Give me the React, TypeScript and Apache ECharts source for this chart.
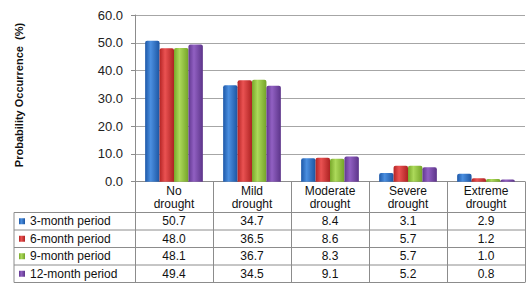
import React, { useEffect, useRef } from "react";
import * as echarts from "echarts";

const categories = ["No\ndrought", "Mild\ndrought", "Moderate\ndrought", "Severe\ndrought", "Extreme\ndrought"];
const seriesNames = ["3-month period", "6-month period", "9-month period", "12-month period"];
const period3 = [50.7, 34.7, 8.4, 3.1, 2.9];
const period6 = [48.0, 36.5, 8.6, 5.7, 1.2];
const period9 = [48.1, 36.7, 8.3, 5.7, 1.0];
const period12 = [49.4, 34.5, 9.1, 5.2, 0.8];
const yTicks = { min: 0, max: 60, interval: 10 };
const yTitle = "Probability Occurrence  (%)";

const allValues = [period3, period6, period9, period12];
const gradients: [string, string, string][] = [
  ["#1d58a8", "#4b8fe0", "#1c55a2"],
  ["#b42424", "#ea5252", "#ad2222"],
  ["#78a82a", "#acd95a", "#74a428"],
  ["#613790", "#9160c2", "#5c3489"],
];

const FONT = "'Liberation Sans', Arial, sans-serif";
const GRID_LEFT = 135;
const GRID_TOP = 15;
const GRID_RIGHT = 1;
const AXIS_Y = 181.7;
const ROW_TOP = 212.5;
const ROW_H = 17.5;
const TABLE_LEFT = 14;
const W = 526;
const H = 286;

function grad(c: [string, string, string]) {
  return new echarts.graphic.LinearGradient(0, 0, 1, 0, [
    { offset: 0, color: c[0] },
    { offset: 0.38, color: c[1] },
    { offset: 1, color: c[2] },
  ]);
}

export default function App() {
  const ref = useRef<HTMLDivElement>(null);
  useEffect(() => {
    document.body.style.margin = "0";
    if (!ref.current) return;
    const chart = echarts.init(ref.current, null, { renderer: "svg" });
    const gridBottom = H - AXIS_Y;
    const tableBottom = ROW_TOP + ROW_H * allValues.length;

    const valueAxes = allValues.map((vals, k) => ({
      type: "category" as const,
      data: categories,
      gridIndex: 0,
      position: "bottom" as const,
      axisLine: { show: false },
      axisTick: { show: false },
      splitLine: { show: false },
      axisLabel: {
        interval: 0,
        verticalAlign: "middle" as const,
        margin: ROW_TOP + ROW_H * k + ROW_H / 2 - AXIS_Y,
        fontFamily: FONT,
        fontSize: 12,
        color: "#111",
        formatter: (_v: string, i: number) => vals[i].toFixed(1),
      },
    }));

    const hLines: any[] = [];
    for (let k = 0; k <= allValues.length; k++) {
      const y = ROW_TOP + ROW_H * k;
      hLines.push({
        type: "line",
        shape: { x1: TABLE_LEFT, y1: y, x2: W - GRID_RIGHT, y2: y },
        style: { stroke: "#8c8c8c", lineWidth: 1 },
        silent: true,
      });
    }
    hLines.push({
      type: "line",
      shape: { x1: TABLE_LEFT, y1: ROW_TOP, x2: TABLE_LEFT, y2: tableBottom },
      style: { stroke: "#8c8c8c", lineWidth: 1 },
      silent: true,
    });

    chart.setOption({
      animation: false,
      backgroundColor: "#ffffff",
      grid: { left: GRID_LEFT, top: GRID_TOP, right: GRID_RIGHT, bottom: gridBottom, containLabel: false },
      legend: {
        orient: "vertical",
        left: 19,
        top: ROW_TOP + (ROW_H - 14) / 2,
        padding: 0,
        itemWidth: 6,
        itemHeight: 6,
        itemGap: ROW_H - 14,
        icon: "rect",
        textStyle: { fontFamily: FONT, fontSize: 12, color: "#111", lineHeight: 14 },
        data: seriesNames,
      },
      xAxis: [
        {
          type: "category",
          data: categories,
          axisLine: { show: true, lineStyle: { color: "#8c8c8c", width: 1 } },
          axisTick: {
            show: true,
            inside: false,
            length: tableBottom - AXIS_Y,
            lineStyle: { color: "#8c8c8c", width: 1 },
          },
          axisLabel: {
            interval: 0,
            verticalAlign: "middle",
            margin: (AXIS_Y + ROW_TOP) / 2 - AXIS_Y,
            fontFamily: FONT,
            fontSize: 12,
            lineHeight: 13,
            color: "#111",
          },
          splitLine: { show: false },
        },
        ...valueAxes,
      ],
      yAxis: {
        type: "value",
        min: yTicks.min,
        max: yTicks.max,
        interval: yTicks.interval,
        axisLine: { show: true, lineStyle: { color: "#8c8c8c", width: 1 } },
        axisTick: { show: true, length: 4, lineStyle: { color: "#8c8c8c" } },
        axisLabel: {
          margin: 12,
          fontFamily: FONT,
          fontSize: 13,
          color: "#222",
          formatter: (v: number) => v.toFixed(1),
        },
        splitLine: { show: true, lineStyle: { color: "#a6a6a6", width: 1 } },
      },
      series: allValues.map((vals, k) => ({
        name: seriesNames[k],
        type: "bar",
        data: vals,
        barGap: "0%",
        barCategoryGap: "26%",
        itemStyle: { color: grad(gradients[k]), borderRadius: [2, 2, 0, 0] },
      })),
      graphic: [
        {
          type: "text",
          x: 18.5,
          y: 95,
          rotation: Math.PI / 2,
          style: {
            text: yTitle,
            fontFamily: FONT,
            fontSize: 11,
            fontWeight: "bold",
            fill: "#111",
            align: "center",
            verticalAlign: "middle",
          },
        },
        ...hLines,
      ],
    });
    return () => chart.dispose();
  }, []);
  return <div ref={ref} style={{ width: W, height: H }} />;
}
